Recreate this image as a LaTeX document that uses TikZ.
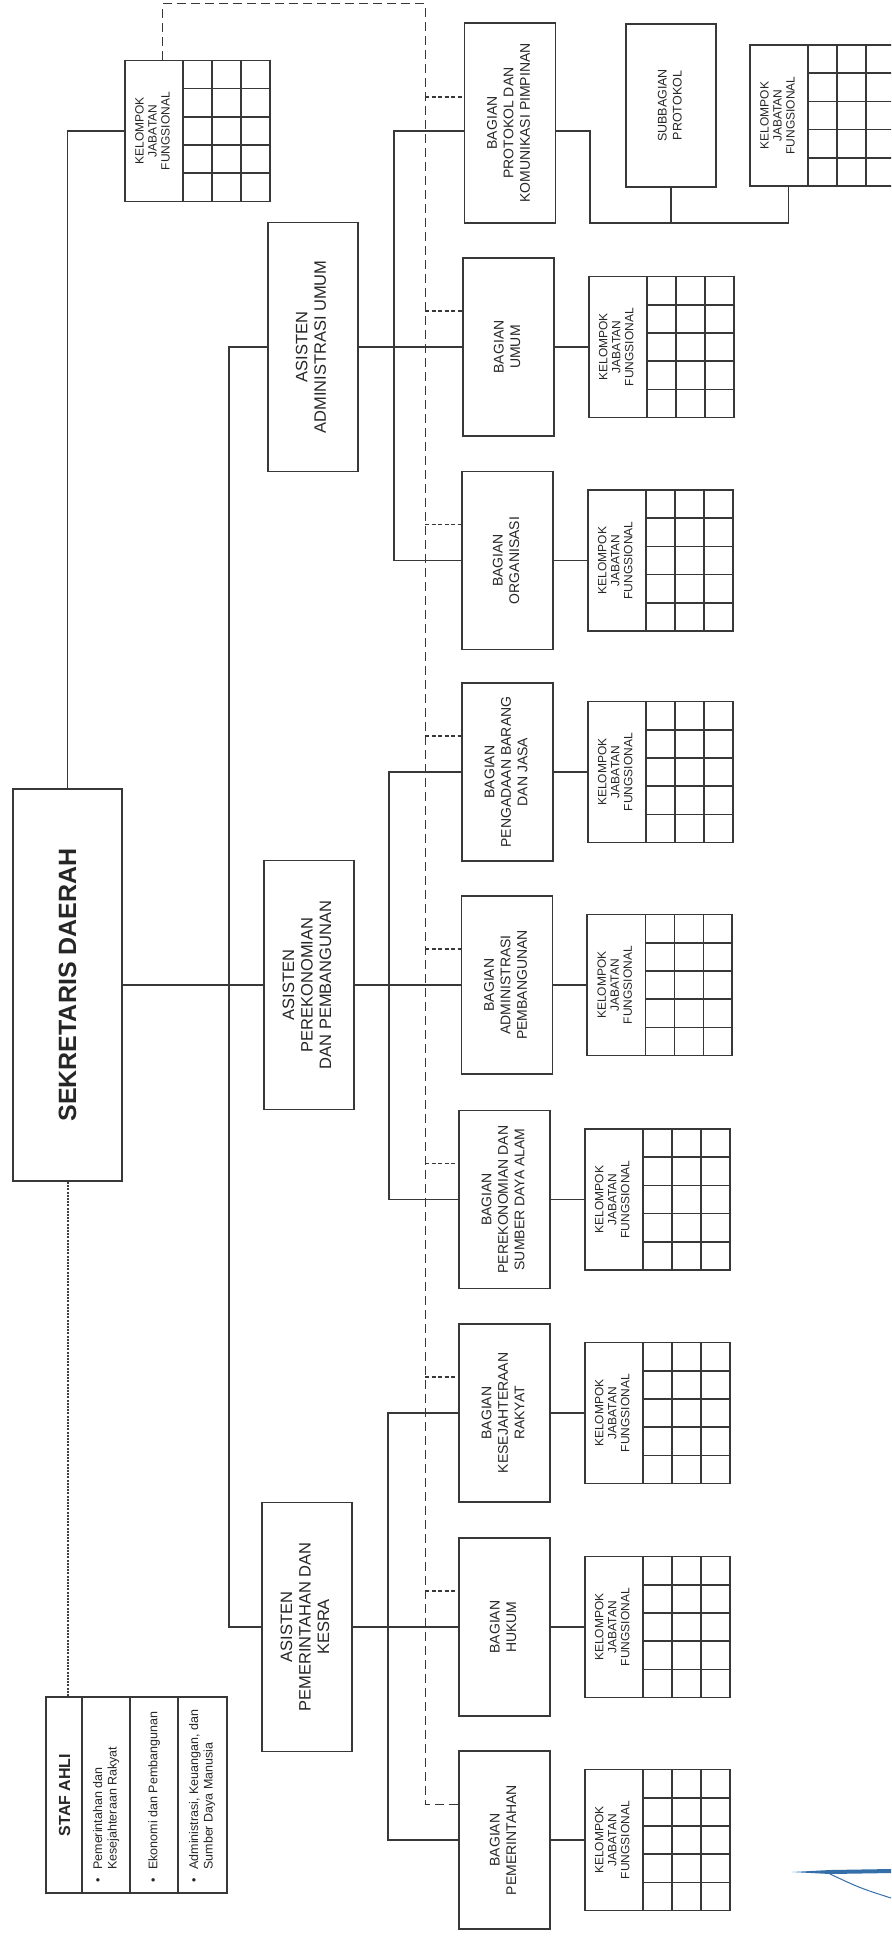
\documentclass[tikz,border=0pt]{standalone}
\usepackage{fontspec}
\setmainfont{Liberation Sans}
\usepackage{tikz}
\usetikzlibrary{positioning}
\newcommand{\vtxt}[1]{\rotatebox{90}{\begin{tabular}{@{}c@{}}#1\end{tabular}}}
\newcommand{\kjftxt}{\makebox[145pt][l]{\makebox[58pt]{\vtxt{KELOMPOK\\JABATAN\\FUNGSIONAL}}}}
\newcommand{\stafitem}[1]{\makebox[48pt]{\rotatebox{90}{\makebox[180pt][l]{\hspace{3pt}\begin{tabular}{@{}l@{\hspace{8pt}}l@{}}#1\end{tabular}}}}}

\begin{document}
\begin{tikzpicture}[
  x=1pt, y=-1pt,
  garis/.style={draw=black!78, line width=1.3pt},
  koord/.style={draw=black!78, line width=1pt, dash pattern=on 9pt off 5pt},
  koordb/.style={draw=black!78, line width=1.2pt, dash pattern=on 4pt off 2.5pt},
  stafgaris/.style={draw=black!75, line width=2pt, dash pattern=on 2pt off 1.2pt},
  kotak/.style={draw=black!78, line width=1.8pt, fill=white, inner sep=0pt, text=black!85},
  sekbox/.style={kotak, minimum width=109pt, minimum height=392pt, font=\fontsize{25}{29}\selectfont\bfseries},
  asbox/.style={kotak, minimum width=90pt, minimum height=249pt, font=\fontsize{16.5}{18.5}\selectfont},
  bagbox/.style={kotak, minimum width=91pt, minimum height=178pt, font=\fontsize{14}{16.5}\selectfont},
  kjfbox/.style={kotak, minimum width=145pt, minimum height=141pt, font=\fontsize{12}{13}\selectfont,
    path picture={
      \foreach \gx in {58,87,116}
        \draw[black!78, line width=1.6pt] ([xshift=\gx pt]path picture bounding box.north west) -- ([xshift=\gx pt]path picture bounding box.south west);
      \foreach \gy in {1,...,4}
        \draw[black!78, line width=1.6pt] ([xshift=58pt, yshift=-\gy*28.2pt]path picture bounding box.north west) -- ([yshift=-\gy*28.2pt]path picture bounding box.north east);
    }},
  stafbox/.style={kotak, minimum width=181pt, minimum height=196pt, font=\fontsize{12.5}{14.5}\selectfont,
    path picture={
      \foreach \gx in {36,84,132}
        \draw[black!78, line width=1.6pt] ([xshift=\gx pt]path picture bounding box.north west) -- ([xshift=\gx pt]path picture bounding box.south west);
    }}
]
  \useasboundingbox (0,0) rectangle (891,1937);
  \fill[white] (0,0) rectangle (891,1937);
  \clip (0,0) rectangle (891,1937);

  % Sekretaris daerah dan staf ahli
  \node[sekbox] (sekda) at (67.5,985) {\rotatebox{90}{SEKRETARIS DAERAH}};
  \node[kjfbox] (sekda-kjf) at (197.5,131) {\kjftxt};
  \node[stafbox] (staf) at (136.5,1795) {%
    \makebox[36pt]{\rotatebox{90}{\makebox[180pt]{\fontsize{16}{18}\selectfont\bfseries STAF AHLI}}}%
    \stafitem{\textbullet & Pemerintahan dan\\ & Kesejahteraan Rakyat}%
    \stafitem{\textbullet & Ekonomi dan Pembangunan}%
    \stafitem{\textbullet & Administrasi, Keuangan, dan\\ & Sumber Daya Manusia}};

  % Asisten
  \node[asbox] (aau) at (313,347) {\vtxt{ASISTEN\\ADMINISTRASI UMUM}};
  \node[asbox] (app) at (309,985) {\vtxt{ASISTEN\\PEREKONOMIAN\\DAN PEMBANGUNAN}};
  \node[asbox] (apk) at (307,1627) {\vtxt{ASISTEN\\PEMERINTAHAN DAN\\KESRA}};

  % Bagian
  \node[bagbox, minimum height=200pt] (prot) at (510,123) {\vtxt{BAGIAN\\PROTOKOL DAN\\KOMUNIKASI PIMPINAN}};
  \node[bagbox, minimum width=90pt, minimum height=163pt, font=\fontsize{12.5}{15}\selectfont] (subprot) at (671,105.5) {\vtxt{SUBBAGIAN\\PROTOKOL}};
  \node[kjfbox] (prot-kjf) at (822.5,115.5) {\kjftxt};
  \node[bagbox] (umum) at (508.5,347) {\vtxt{BAGIAN\\UMUM}};
  \node[bagbox] (org) at (507.5,560.5) {\vtxt{BAGIAN\\ORGANISASI}};
  \node[bagbox] (peng) at (507.5,772) {\vtxt{BAGIAN\\PENGADAAN BARANG\\DAN JASA}};
  \node[bagbox] (admp) at (507,985) {\vtxt{BAGIAN\\ADMINISTRASI\\PEMBANGUNAN}};
  \node[bagbox] (perek) at (504.5,1199.5) {\vtxt{BAGIAN\\PEREKONOMIAN DAN\\SUMBER DAYA ALAM}};
  \node[bagbox] (kesra) at (504.5,1413) {\vtxt{BAGIAN\\KESEJAHTERAAN\\RAKYAT}};
  \node[bagbox] (hukum) at (504.5,1627) {\vtxt{BAGIAN\\HUKUM}};
  \node[bagbox] (pem) at (504.5,1840) {\vtxt{BAGIAN\\PEMERINTAHAN}};

  % Kelompok jabatan fungsional
  \foreach \b in {umum,org,peng,admp,perek,kesra,hukum,pem}
    \node[kjfbox, right=33pt of \b] (\b-kjf) {\kjftxt};

  % Garis komando
  \coordinate (jkiri) at (229,985);
  \coordinate (jau) at (394,347);
  \coordinate (jpp) at (389,985);
  \coordinate (jpk) at (388,1627);
  \coordinate (jprot) at (590,223);
  \draw[garis] (sekda.north) |- (sekda-kjf.west);
  \draw[garis] (sekda.east) -- (app.west);
  \draw[garis] (aau.west) -| (jkiri) |- (apk.west);
  \draw[garis] ([yshift=-8pt]prot.west) -| (jau) |- (org.west);
  \draw[garis] (aau.east) -- (umum.west);
  \draw[garis] (peng.west) -| (jpp) |- (perek.west);
  \draw[garis] (app.east) -- (admp.west);
  \draw[garis] (kesra.west) -| (jpk) |- (pem.west);
  \draw[garis] (apk.east) -- (hukum.west);
  \draw[garis] ([yshift=-8pt]prot.east) -| (jprot) -| ([xshift=-34pt]prot-kjf.south);
  \draw[garis] (subprot.south) -- (subprot.south |- jprot);
  \foreach \b in {umum,org,peng,admp,perek,kesra,hukum,pem}
    \draw[garis] (\b) -- (\b-kjf);

  % Garis koordinasi
  \coordinate (dtop) at (425,4);
  \draw[stafgaris] (sekda.south) -- (sekda.south |- staf.north);
  \draw[koord] ([xshift=-35pt]sekda-kjf.north) |- (dtop) |- ([yshift=36pt]pem.west);
  \foreach \b in {umum,org,peng,admp,perek,kesra,hukum}
    \draw[koordb] ([yshift=36pt]\b.west -| dtop) -- ([yshift=36pt]\b.west);
  \draw[koordb] ([yshift=26pt]prot.west -| dtop) -- ([yshift=26pt]prot.west);

  % pen mark
  \fill[cyan!55!blue!80!black] (792,1872) -- (830,1870) -- (891,1869) -- (891,1873) -- (830,1874) -- cycle;
  \draw[cyan!55!blue!80!black, line width=1pt] (830,1874) .. controls (860,1888) .. (891,1898);
\end{tikzpicture}
\end{document}
